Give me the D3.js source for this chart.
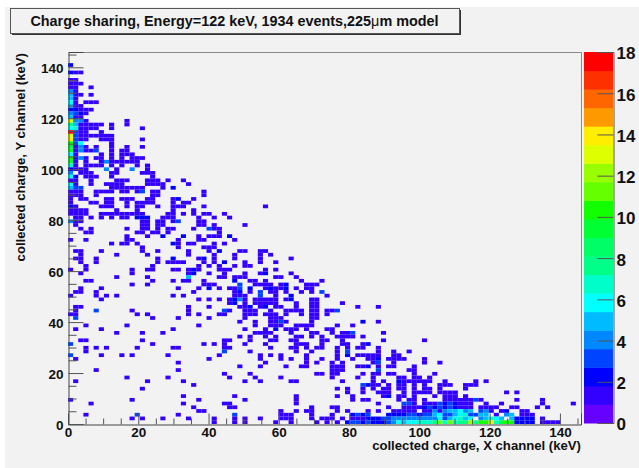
<!DOCTYPE html>
<html><head><meta charset="utf-8">
<script src="https://cdn.jsdelivr.net/npm/d3@7"></script>
<style>html,body{margin:0;padding:0;background:#fff}svg{display:block}text{font-family:"Liberation Sans",Arial,sans-serif;font-weight:bold;fill:#111}</style>
</head><body><svg id="c" width="639" height="468"></svg>
<script>
const titleText = "Charge sharing, Energy=122 keV, 1934 events,225";
const xLabel = "collected charge, X channel (keV)";
const yLabel = "collected charge, Y channel (keV)";
const xMajor = [0,20,40,60,80,100,120,140];
const yMajor = [0,20,40,60,80,100,120,140];
const minorTicks = [5,10,15,25,30,35,45,50,55,65,70,75,85,90,95,105,110,115,125,130,135,145];
const zTicks = [0,2,4,6,8,10,12,14,16,18];
const bandColors = ["#6600ff","#3300ff","#0000ff","#0044ff","#0088ff","#00bbff","#00ffff","#00ffc8","#00ff88","#00ff66","#00ff33","#11ff00","#66ff00","#99ff00","#ddff00","#ffee00","#ff9900","#ff6600","#ff3000","#ff0000"];
const binCount = 100, axisMax = 146, zMax = 18;
// each row: y bin, then x bins holding one count
const binRows = [
[96,0],[94,0,1,2],[92,0,1],[91,0,1,2],[90,0,1,4],[89,0,1],[88,0,1,2,4],[87,0,1],[86,0,1,3,4,5],[85,0,1,2],
[84,0,1,2,3,4],[83,0,1,2,3],[82,0,1,2],[81,0,1,2,3,11],[80,0,1,2,3,4,5,6,8,11],[79,0,1,2,3,4,5,8,14],[78,0,1,2,3,6],
[77,0,1,2,3,4,5,6,7,8],[76,0,1,2,3,6,7,8,14],[75,0,1,2,8],[74,0,1,2,3,5,8,11,14],[73,0,1,2,3,4,5,8,10,11],
[72,0,1,6,8,10,11,12],[71,0,1,2,3,5,6,8,10,12,13,14],[70,0,1,3,6,7,8,9,10,11,12,13],[69,0,1,3,4,5,6,8,10,13,15],
[68,0,1,2,3,7,9,12,15],[67,0,2,3,4,8,9,14,15,16],[66,0,1,3,4,5,8,16],
[65,0,1,4,9,10,11,15,16,17,19,22],[64,0,1,4,7,8,9,10,15,16,17,18,23],[63,0,1,2,8,9,10,11,12,13,14,18,20],
[62,0,1,2,5,6,7,8,10,11,13,14,16,17,26],[61,0,1,2,5,16,17,26],[60,0,2,3,7,8,10,11,12,15,16,20,21,24],
[59,0,4,5,7,8,11,13,14,15,16,20,22,23],[58,0,1,6,7,8,11,13,14,17,20,21,22,26,38],[57,0,1,2,3,9,13,20,24],
[56,0,1,2,3,6,7,8,9,10,11,12,13,14,19,20,22,24,26,27,30],[55,1,2,4,6,8,10,11,13,14,15,18,19,20,25,28,31],
[54,0,1,2,14,15,17,18,20,21,25,26],[53,1,14,15,17,18,25,26,28,34],[52,2,4,11,14,15,17,19,20,24,27,28,29],
[51,3,4,13,14,16,17,19,29],[50,11,15,18,22,25,27,28,29,31],[49,0,3,11,12,21,25,26,32],[48,8,10,11,13,20,21,23,24,28,30],
[47,14,21,26,27,28],[46,1,2,6,14,17,23,27,29,33,34,37,38],[45,2,9,15,23,28,32,37,39],[44,1,2,5,17,20,25,26,28,32,37,43],
[43,2,5,17,19,20,21,22,26,28,30,34,37,40],[42,3,16,25,27,29,32,34,35],[41,0,3,12,15,16,20,21,23,24,25,29,30,31,38,40],
[40,2,12,23,24,27,30,34,37,38,43],[39,9,15,23,29,30,32,33,34,40,41,44],[38,3,4,16,20,22,23,26,32,35,36,38,45,49],
[37,12,15,26,27,28,33,36,37,38,39,41,42,46,47,48],[36,2,6,21,25,27,29,31,32,33,35,38,39,40,41,42,44,46,47],
[35,1,2,5,24,32,33,35,37,39,40,42,45,47,49],[34,0,5,7,9,20,22,32,33,34,37,40,43,50],
[33,6,25,27,29,31,32,33,34,36,37,38,39,40,42,43,47,48],[32,31,32,34,36,37,38,39,40,44,47,48,53],
[31,1,2,23,27,33,34,35,37,38,40,41,44,47,48,56,60],[30,1,5,12,23,30,31,34,35,36,39,42,43,44,45,47,48,50,51,52],
[29,0,1,13,15,23,25,29,30,34,35,36,38,39,40,42,45,47,48,50],[28,1,16,21,27,34,39,40,41,47,48],[27,33,36,39,40,41,42,47,57,60],
[26,3,11,25,36,39,40,41,44,45,46,47,52,55],[25,1,6,20,34,38,40,42,43,44,46,50,51],[24,9,14,18,36,37,38,39,43,47,48,51,53,54,55,61],
[23,33,35,38,40,44,45,47,49,52,53,54,55,57],[22,2,3,14,30,31,35,39,40,43,44,49,50,53,61,69],
[21,0,16,26,28,30,34,38,44,45,46,49,53,54,57,58],[20,3,5,7,13,20,21,30,31,39,43,44,46,48,49,52,54,56,57,60],
[19,3,30,35,44,47,52,54,60,63,66],[18,0,6,10,12,19,29,37,39,41,46,52,54,56,57,58,59,60,63,64],
[17,1,27,37,41,43,46,49,52,55,58,59,60,62,63,64,65,69],[16,21,38,46,48,51,53,59,60,63,69,72],
[15,33,37,42,45,46,51,52,53,56,57,58,60,62,63,67],[14,5,21,51,52,53,60,66,67],[13,30,35,48,49,51,52,57,59,60,62,63,67,71],
[12,11,19,31,36,41,51,56,59,64,65,67,68,70],[11,1,15,22,34,37,43,44,53,59,61,64,65,66,67,68,69,70,73,79,81],
[10,24,57,58,59,60,62,64,65,67,69,72,73,74,77,78,79],[9,14,52,54,57,59,61,62,64,65,67,69,70,72,77],
[8,54,57,60,61,62,65,67,68,69,70,72,73,74,75,85,87],[7,22,32,44,52,55,61,62,64,65,67,71,73,74,75,77],
[6,0,12,25,34,44,55,57,58,64,66,67,69,73,74,75,76,77,78,79,80,87,92],
[5,4,22,30,31,44,60,65,66,67,69,70,71,72,73,74,75,76,77,78,81,84,92,98],
[4,24,31,32,47,51,52,62,65,66,67,68,69,70,71,72,73,74,75,76,77,78,80,81,82,83,86,87,91,93],
[3,25,26,41,44,46,47,52,54,58,60,63,64,65,66,67,69,70,71,72,73,74,75,76,77,78,80,81,82,84,85,88,89],
[2,3,13,21,32,41,42,43,47,51,55,56,57,58,62,63,64,65,66,67,68,69,70,71,72,73,74,75,76,77,78,79,80,81,83,85,86,88,89,90],
[1,12,14,18,23,28,32,34,37,41,42,43,47,49,50,51,53,55,56,57,58,59,60,61,62,63,64,65,66,67,68,69,70,71,72,73,74,75,76,77,78,80,81,82,83,84,86,87,88,89,90,92],
[0,28,32,34,40,43,48,50,52,54,55,56,57,58,59,60,61,62,63,64,65,66,67,68,69,70,71,72,73,74,75,76,77,78,79,80,81,82,83,84,85,86,87,88,89,90,92,93,94,95]
];
// bins with more than one count: [x bin, y bin, count]
const hotBins = [
[0,96,2],[0,94,2],[0,89,4],[0,88,5],[0,87,5],[0,86,6],[0,85,5],[0,84,2],[1,84,2],[0,83,4],[1,83,3],[2,83,2],[0,82,5],
[0,81,13],[1,81,4],[2,81,4],[0,80,8],[1,80,5],[0,79,6],[1,79,7],[0,78,18],[1,78,3],[0,77,13],[1,77,3],[0,76,14],[1,76,3],
[0,75,10],[1,75,3],[2,75,6],[0,74,9],[2,74,4],[0,73,9],[2,73,4],[5,73,3],[0,72,6],[0,71,10],[2,71,4],[0,70,9],[0,69,7],[7,70,4],
[0,68,2],[7,68,4],[12,68,4],[0,67,4],[0,66,6],[1,66,2],[0,64,6],[0,63,5],[1,63,3],[2,63,3],[14,62,3],[0,58,2],[13,55,2],[14,55,2],[15,55,2],
[0,54,4],[18,50,2],[20,63,2],[21,60,2],[21,54,3],[27,52,3],[31,50,2],[22,50,2],[20,48,2],[29,46,2],[20,44,2],[26,44,2],[30,43,2],
[24,41,2],[24,40,2],[38,40,2],[23,39,5],[32,38,2],[33,37,3],[42,37,2],[27,36,2],[33,36,3],[35,36,2],[39,36,2],[42,36,2],[37,35,3],[33,35,2],
[49,35,3],[37,34,3],[43,34,2],[32,33,2],[33,33,4],[43,33,2],[32,32,2],[35,31,2],[38,31,2],[30,30,3],[52,30,3],[5,30,3],[1,28,3],
[41,27,3],[57,27,2],[40,25,2],[55,24,3],[30,19,3],[58,21,2],[54,19,3],[54,18,2],[60,17,2],[60,16,3],[58,15,2],[60,14,3],
[0,21,3],[0,18,3],[57,10,3],[58,10,2],[62,7,2],[64,11,2],[13,2,3],[32,2,3],[79,6,3],
[72,5,3],[73,5,2],[74,5,3],[75,5,2],[65,5,3],[66,5,3],
[69,4,2],[70,4,3],[71,4,2],[72,4,3],[73,4,2],[74,4,3],[75,4,2],
[71,3,4],[73,3,4],[74,3,5],[75,3,5],[76,3,6],[77,3,4],[78,3,5],[80,3,3],[81,3,4],[85,3,2],
[55,2,2],[56,2,3],[57,2,2],[58,2,3],[62,2,2],[63,2,2],[64,2,2],[65,2,2],[66,2,3],[67,2,3],[68,2,2],[69,2,3],[70,2,3],[71,2,5],[72,2,6],[73,2,3],[74,2,3],[75,2,5],[76,2,6],[77,2,7],[78,2,3],[79,2,3],[80,2,5],[81,2,5],[85,2,4],[86,2,5],
[58,1,2],[59,1,2],[60,1,2],[61,1,3],[62,1,3],[63,1,4],[64,1,4],[65,1,4],[66,1,4],[67,1,4],[68,1,4],[69,1,4],[70,1,4],[71,1,4],[72,1,6],[73,1,3],[74,1,5],[75,1,6],[76,1,7],[77,1,5],[78,1,6],[80,1,4],[81,1,5],[82,1,7],[83,1,6],[84,1,5],[86,1,5],[87,1,2],[88,1,2],[89,1,2],[90,1,2],
[54,0,2],[55,0,3],[56,0,3],[57,0,2],[58,0,3],[59,0,2],[60,0,2],[61,0,2],[62,0,3],[63,0,4],[64,0,6],[65,0,5],[66,0,6],[67,0,6],[68,0,7],[69,0,7],[70,0,7],[71,0,8],[72,0,11],[73,0,7],[74,0,11],[75,0,7],[76,0,8],[77,0,8],[78,0,12],[79,0,8],[80,0,10],[81,0,10],[82,0,14],[83,0,7],[84,0,9],[85,0,10],[86,0,10],[87,0,2],[88,0,2],[89,0,2],[90,0,2]
];

const svg = d3.select("#c");
const L = 68, R = 581, T = 52, B = 424, BW = 584, BE = 613;
svg.append("rect").attr("x",5).attr("y",7).attr("width",634).attr("height",461).attr("fill","#f2f2f2");

// title box
const tb = svg.append("g");
tb.append("rect").attr("x",12).attr("y",10).attr("width",449).attr("height",25).attr("fill","#333");
tb.append("rect").attr("x",10.5).attr("y",8.5).attr("width",449).attr("height",25).attr("fill","#f2f2f2").attr("stroke","#555");
const tt = tb.append("text").attr("x",234.5).attr("y",26).attr("text-anchor","middle").attr("font-size",14.4).text(titleText);
tt.append("tspan").attr("font-weight","normal").text("\u03bc");
tt.append("tspan").text("m model");

const x = d3.scaleLinear().domain([0,axisMax]).range([L,R]);
const y = d3.scaleLinear().domain([0,axisMax]).range([B,T]);
const step = axisMax/binCount;
const z = d3.scaleQuantize().domain([0,zMax]).range(bandColors);
const valueOf = new Map(hotBins.map(d=>[d[0]+"_"+d[1],d[2]]));
const cells = binRows.flatMap(r=>r.slice(1).map(ix=>({ix,iy:r[0],v:valueOf.get(ix+"_"+r[0])||1})));

svg.append("g").selectAll("rect").data(cells).join("rect")
  .attr("x",d=>x(d.ix*step)).attr("y",d=>y((d.iy+1)*step))
  .attr("width",x(step)-x(0)).attr("height",y(0)-y(step))
  .attr("fill",d=>z(Math.min(d.v,17.99)));

// frame
svg.append("path").attr("d",`M${L+.5},${T+.5}H${R+.5}V${B+.5}`).attr("fill","none").attr("stroke","#8a8a8a");

function styleAxis(g){ g.selectAll(".domain").attr("stroke","#444");
  g.selectAll(".tick line").attr("stroke","#555");
  g.selectAll("text").attr("font-size",13.5).attr("fill","#111").attr("font-family",'"Liberation Sans",Arial,sans-serif').attr("font-weight","bold"); }

const gx = svg.append("g").attr("transform",`translate(0,${B+.5})`)
  .call(d3.axisBottom(x).tickValues(xMajor).tickSize(-11).tickPadding(3).tickFormat(d3.format("d")));
styleAxis(gx); gx.selectAll(".tick text").attr("y",12.3).attr("dy",0);
const gxm = svg.append("g").attr("transform",`translate(0,${B+.5})`)
  .call(d3.axisBottom(x).tickValues(minorTicks).tickSize(-6).tickFormat(""));
styleAxis(gxm); gxm.select(".domain").remove();
const gy = svg.append("g").attr("transform",`translate(${L+.5},0)`)
  .call(d3.axisLeft(y).tickValues(yMajor).tickSize(-15).tickPadding(5).tickFormat(d3.format("d")));
styleAxis(gy); gy.selectAll(".tick text").attr("y",1.3);
const gym = svg.append("g").attr("transform",`translate(${L+.5},0)`)
  .call(d3.axisLeft(y).tickValues(minorTicks).tickSize(-8).tickFormat(""));
styleAxis(gym); gym.select(".domain").remove();

// palette
const zy = d3.scaleLinear().domain([0,zMax]).range([B-1,T]);
const zStep = zMax/bandColors.length;
svg.append("g").selectAll("rect").data(bandColors).join("rect")
  .attr("x",BW).attr("width",BE-BW)
  .attr("y",(d,i)=>zy((i+1)*zStep)).attr("height",(d,i)=>zy(i*zStep)-zy((i+1)*zStep)+.5)
  .attr("fill",d=>d);
const gz = svg.append("g").attr("transform",`translate(${BE+.5},0)`)
  .call(d3.axisRight(zy).tickValues(zTicks).tickSize(-16).tickPadding(3).tickFormat(d3.format("d")));
styleAxis(gz); gz.select(".domain").attr("stroke","#555");
gz.selectAll("text").attr("font-size",17).attr("y",1.5);

svg.append("text").attr("x",581).attr("y",449.5).attr("text-anchor","end").attr("font-size",13.15).text(xLabel);
svg.append("text").attr("transform","translate(25,53) rotate(-90)").attr("text-anchor","end").attr("font-size",13.15).text(yLabel);
</script></body></html>
